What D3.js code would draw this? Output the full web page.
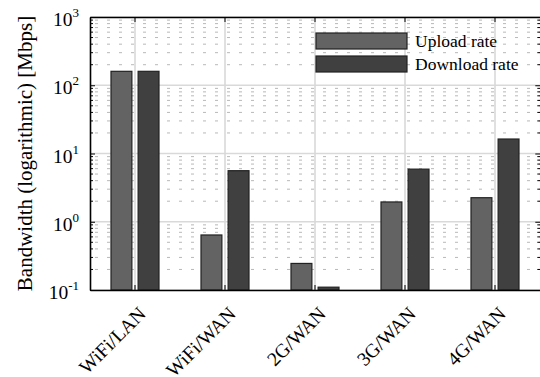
<!DOCTYPE html>
<html>
<head>
<meta charset="utf-8">
<script src="https://cdn.jsdelivr.net/npm/d3@7"></script>
<style>
  body { margin: 0; background: #fff; }
  svg { display: block; font-family: "Liberation Serif", "Times New Roman", serif; }
</style>
</head>
<body>
<svg width="540" height="377"></svg>
<script>
// data
var categories = ["WiFi/LAN", "WiFi/WAN", "2G/WAN", "3G/WAN", "4G/WAN"];
var series = ["Upload rate", "Download rate"];
var uploadRate = [160, 0.64, 0.245, 1.95, 2.25];
var downloadRate = [160, 5.6, 0.11, 5.9, 16.3];
var yDecades = [0.1, 1, 10, 100, 1000];
var yExponents = ["-1", "0", "1", "2", "3"];

var values = { "Upload rate": uploadRate, "Download rate": downloadRate };
var colors = { "Upload rate": "#636363", "Download rate": "#404040" };

// note: "top" is a read-only window property, so use a plot box object
var svg = d3.select("svg"),
  plot = { left: 90, right: 540, top: 17, bottom: 290 };

var x0 = d3.scaleBand().domain(categories).range([plot.left, plot.right]);
var x1 = d3.scaleBand().domain(series).range([21, 69]).paddingInner(0.23);
var y = d3.scaleLog().domain([0.1, 1000]).range([plot.bottom, plot.top]);

// minor ticks 2..9 per decade
var minorTicks = [];
yDecades.slice(0, -1).forEach(function(d) {
  for (var k = 2; k <= 9; k++) minorTicks.push(d * k);
});

var grid = svg.append("g");
grid.selectAll(".minor")
  .data(minorTicks)
  .enter()
  .append("line")
  .attr("x1", plot.left)
  .attr("x2", plot.right)
  .attr("y1", function(d) { return y(d); })
  .attr("y2", function(d) { return y(d); })
  .attr("stroke", "#b8b8b8")
  .attr("stroke-width", 1)
  .attr("stroke-dasharray", "3,9")
  .attr("stroke-dashoffset", -5);

grid.selectAll(".major")
  .data(yDecades)
  .enter()
  .append("line")
  .attr("x1", plot.left)
  .attr("x2", plot.right)
  .attr("y1", function(d) { return y(d); })
  .attr("y2", function(d) { return y(d); })
  .attr("stroke", "#d9d9d9")
  .attr("stroke-width", 1.6);

grid.selectAll(".vgrid")
  .data(categories)
  .enter()
  .append("line")
  .attr("x1", function(d) { return x0(d) + x0.bandwidth() / 2; })
  .attr("x2", function(d) { return x0(d) + x0.bandwidth() / 2; })
  .attr("y1", plot.top)
  .attr("y2", plot.bottom)
  .attr("stroke", "#d9d9d9")
  .attr("stroke-width", 1.6);

// bars
var groups = svg.append("g")
  .selectAll("g")
  .data(categories)
  .enter()
  .append("g")
  .attr("transform", function(d) { return "translate(" + x0(d) + ",0)"; });

groups.selectAll("rect")
  .data(function(d, i) {
    return series.map(function(s) { return { s: s, v: values[s][i] }; });
  })
  .enter()
  .append("rect")
  .attr("x", function(d) { return x1(d.s); })
  .attr("width", x1.bandwidth())
  .attr("y", function(d) { return y(d.v); })
  .attr("height", function(d) { return plot.bottom - y(d.v); })
  .attr("fill", function(d) { return colors[d.s]; })
  .attr("stroke", "#222")
  .attr("stroke-width", 1.2);

// axes: ticks pointing inward on all four sides
function minorMarks(g, len) {
  g.selectAll(".minor").data(minorTicks).enter().append("line")
    .attr("x2", len)
    .attr("y1", function(d) { return y(d); })
    .attr("y2", function(d) { return y(d); })
    .attr("stroke", "#000");
}
var yLeft = svg.append("g").attr("transform", "translate(" + plot.left + ",0)");
yLeft.call(d3.axisRight(y).tickValues(yDecades).tickSize(5).tickSizeOuter(0).tickFormat(""));
yLeft.call(minorMarks, 3);
// right spine sits on the window edge, mostly clipped like the reference
var yRight = svg.append("g").attr("transform", "translate(" + (plot.right + 0.3) + ",0)");
yRight.call(d3.axisLeft(y).tickValues(yDecades).tickSize(5).tickSizeOuter(0).tickFormat(""));
yRight.call(minorMarks, -3);
var xBottom = svg.append("g").attr("transform", "translate(0," + plot.bottom + ")");
xBottom.call(d3.axisTop(x0).tickSize(5).tickFormat("").tickSizeOuter(0));
var xTop = svg.append("g").attr("transform", "translate(0," + plot.top + ")");
xTop.call(d3.axisBottom(x0).tickSize(5).tickFormat("").tickSizeOuter(0));

svg.selectAll(".domain").attr("stroke", "#000").attr("stroke-width", 1.6);
svg.selectAll(".tick line").attr("stroke", "#000").attr("stroke-width", 1);

// y tick labels 10^n
var yLabels = svg.append("g")
  .selectAll("text")
  .data(yDecades)
  .enter()
  .append("text")
  .attr("x", 79)
  .attr("y", function(d) { return y(d) + 9; })
  .attr("text-anchor", "end")
  .attr("font-size", 19.5)
  .attr("fill", "#000");
yLabels.append("tspan").text("10");
yLabels.append("tspan")
  .attr("font-size", 13)
  .attr("dy", -9)
  .text(function(d, i) { return yExponents[i]; });

// x tick labels rotated
svg.append("g")
  .selectAll("text")
  .data(categories)
  .enter()
  .append("text")
  .attr("transform", function(d) {
    return "translate(" + (x0(d) + x0.bandwidth() / 2 + 12) + "," + (plot.bottom + 25) + ") rotate(-45)";
  })
  .attr("text-anchor", "end")
  .attr("font-size", 19.5)
  .attr("fill", "#000")
  .text(function(d) { return d; });

// y axis title
svg.append("text")
  .attr("transform", "translate(32," + (plot.top + plot.bottom) / 2 + ") rotate(-90)")
  .attr("text-anchor", "middle")
  .attr("font-size", 21)
  .attr("fill", "#000")
  .text("Bandwidth (logarithmic) [Mbps]");

// legend (no frame)
var legend = svg.append("g")
  .selectAll("g")
  .data(series)
  .enter()
  .append("g")
  .attr("transform", function(d, i) { return "translate(316," + (33 + i * 23) + ")"; });
legend.append("rect")
  .attr("width", 91)
  .attr("height", 16)
  .attr("fill", function(d) { return colors[d]; })
  .attr("stroke", "#222")
  .attr("stroke-width", 1.2);
legend.append("text")
  .attr("x", 99)
  .attr("y", 14)
  .attr("font-size", 17.5)
  .attr("fill", "#000")
  .text(function(d) { return d; });
</script>
</body>
</html>
